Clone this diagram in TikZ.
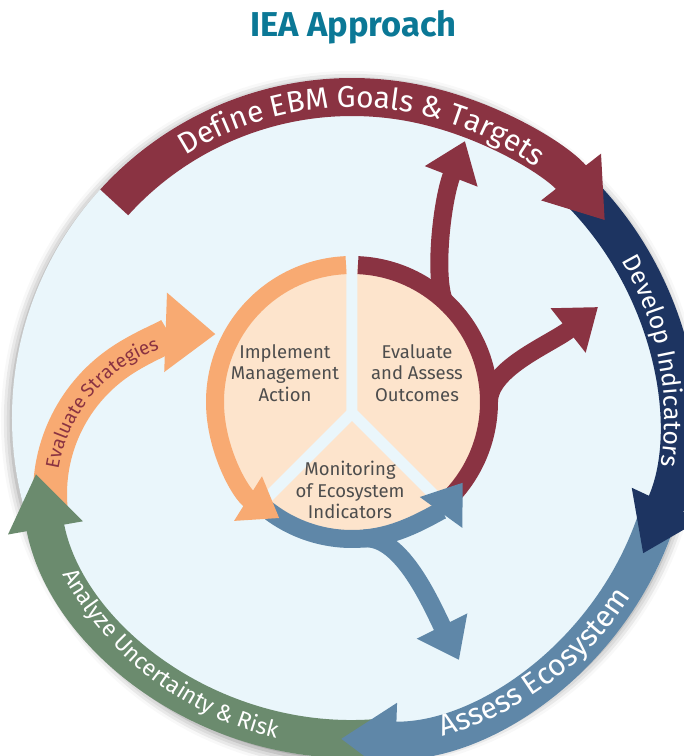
\documentclass[tikz,border=0pt]{standalone}
\usepackage{fontspec}
\setmainfont{Fira Sans}
\newfontfamily\bandfont{Fira Sans}[LetterSpace=-2]
\usetikzlibrary{arrows.meta,decorations.text,shadows.blur,calc}

\definecolor{diskblue}{RGB}{234,246,251}
\definecolor{goalred}{RGB}{138,51,66}
\definecolor{indnavy}{RGB}{29,52,97}
\definecolor{assessblue}{RGB}{95,135,168}
\definecolor{riskgreen}{RGB}{107,139,110}
\definecolor{stratorange}{RGB}{248,170,114}
\definecolor{peach}{RGB}{253,228,204}
\definecolor{titleteal}{RGB}{11,120,150}
\definecolor{labelgray}{RGB}{77,77,77}

\tikzset{
  outerband/.style={line width=38pt, -{Triangle[length=55pt,width=72pt]}},
  wheelring/.style={line width=18pt},
  wheeltip/.style={-{Triangle[length=37pt,width=50pt]}},
  branchtip/.style={-{Triangle[length=38pt,width=54pt]}},
  wheelgap/.style={line width=11pt, draw=diskblue},
  arclabel/.style={decorate, decoration={text along path, text align=center, text={#1}}},
  innerlabel/.style={align=center, text=labelgray, font=\fontsize{18.5}{21.5}\selectfont}
}

\begin{document}
\begin{tikzpicture}[x=1pt, y=1pt]
  \useasboundingbox (-352,-338) rectangle (332,418);
  \coordinate (O) at (0,0);       % centre of the big disk
  \coordinate (I) at (0,16);      % centre of the inner wheel
  \coordinate (J) at (0,5);       % where the three gaps meet
  \coordinate (S) at (-142,-76);  % centre of the strategies arc

  % title
  \node[anchor=base, text=titleteal, font=\bfseries\fontsize{34.5}{34.5}\selectfont] (title) at (1.5,381.5) {IEA Approach};

  % big disk
  \fill[diskblue, blur shadow={shadow xshift=-1pt, shadow yshift=-3pt, shadow blur radius=10pt, shadow opacity=45}]
    (O) circle[radius=340pt];

  % evaluate strategies arc
  \draw[outerband, stratorange, line width=34pt, -{Triangle[length=50pt,width=76pt]}, shift={(S)}]
    (185:160) arc[start angle=185, end angle=88, radius=160pt];

  % outer ring, each head lies on the next band
  \draw[outerband, riskgreen] (-84:321) arc[start angle=-84, end angle=-170, radius=321pt];
  \draw[outerband, assessblue] (-17:321) arc[start angle=-17, end angle=-92, radius=321pt];
  \draw[outerband, indnavy] (45:321) arc[start angle=45, end angle=-25, radius=321pt];
  \draw[outerband, goalred] (137.8:321) arc[start angle=137.8, end angle=38, radius=321pt];

  % labels on the bands
  \path[arclabel={|\bandfont\fontsize{30}{30}\selectfont\color{white}|Define EBM Goals {\&} Targets}]
    (145:310.7) arc[start angle=145, end angle=31, radius=310.7pt];
  \path[arclabel={|\bandfont\fontsize{25}{25}\selectfont\color{white}|Develop Indicators}]
    (60:312.4) arc[start angle=60, end angle=-38.6, radius=312.4pt];
  \path[arclabel={|\bandfont\fontsize{30}{30}\selectfont\color{white}|Assess Ecosystem}]
    (-100:331.3) arc[start angle=-100, end angle=-6.6, radius=331.3pt];
  \path[arclabel={|\bandfont\fontsize{23}{23}\selectfont\color{white}|Analyze Uncertainty {\&} Risk}]
    (180:329) arc[start angle=180, end angle=285, radius=329pt];
  \path[shift={(S)}, arclabel={|\bandfont\fontsize{19}{19}\selectfont\color{goalred}|Evaluate Strategies}]
    (200:153.5) arc[start angle=200, end angle=80, radius=153.5pt];

  % inner wheel
  \fill[peach] (I) circle[radius=137pt];
  \draw[wheelgap] (J) -- ++(90:160) (J) -- ++(225:160) (J) -- ++(315:160);

  % outcomes ring and its two branches
  \coordinate (b1) at ($(I)+(48:137pt)$);
  \coordinate (b2) at ($(I)+(0:137pt)$);
  \coordinate (b3) at ($(I)+(275:137pt)$);
  \coordinate (tip1) at (113,277);
  \coordinate (tip2) at (246,111);
  \coordinate (tip3) at (107,-242);
  \draw[wheelring, goalred, shift={(I)}] (87.5:137) arc[start angle=87.5, end angle=-44, radius=137pt];
  \draw[wheelring, goalred, branchtip] (b1) .. controls (82,145) and (90,218) .. (tip1);
  \draw[wheelring, goalred, branchtip] (b2) .. controls (137,50) and (199,74) .. (tip2);

  % monitoring ring and its branch
  \draw[wheelring, assessblue, wheeltip, shift={(I)}] (226:137) arc[start angle=226, end angle=324, radius=137pt];
  \draw[wheelring, assessblue, branchtip] (b3) .. controls (50,-117) and (80,-188) .. (tip3);

  % management ring
  \draw[wheelring, stratorange, wheeltip, shift={(I)}] (92.5:137) arc[start angle=92.5, end angle=238, radius=137pt];

  % texts in the wheel
  \node[innerlabel] (implement) at (-67,45) {Implement\\Management\\Action};
  \node[innerlabel] (evaluate) at (65,45) {Evaluate\\and Assess\\Outcomes};
  \node[innerlabel] (monitoring) at (-2,-72) {Monitoring\\of Ecosystem\\Indicators};
\end{tikzpicture}
\end{document}
